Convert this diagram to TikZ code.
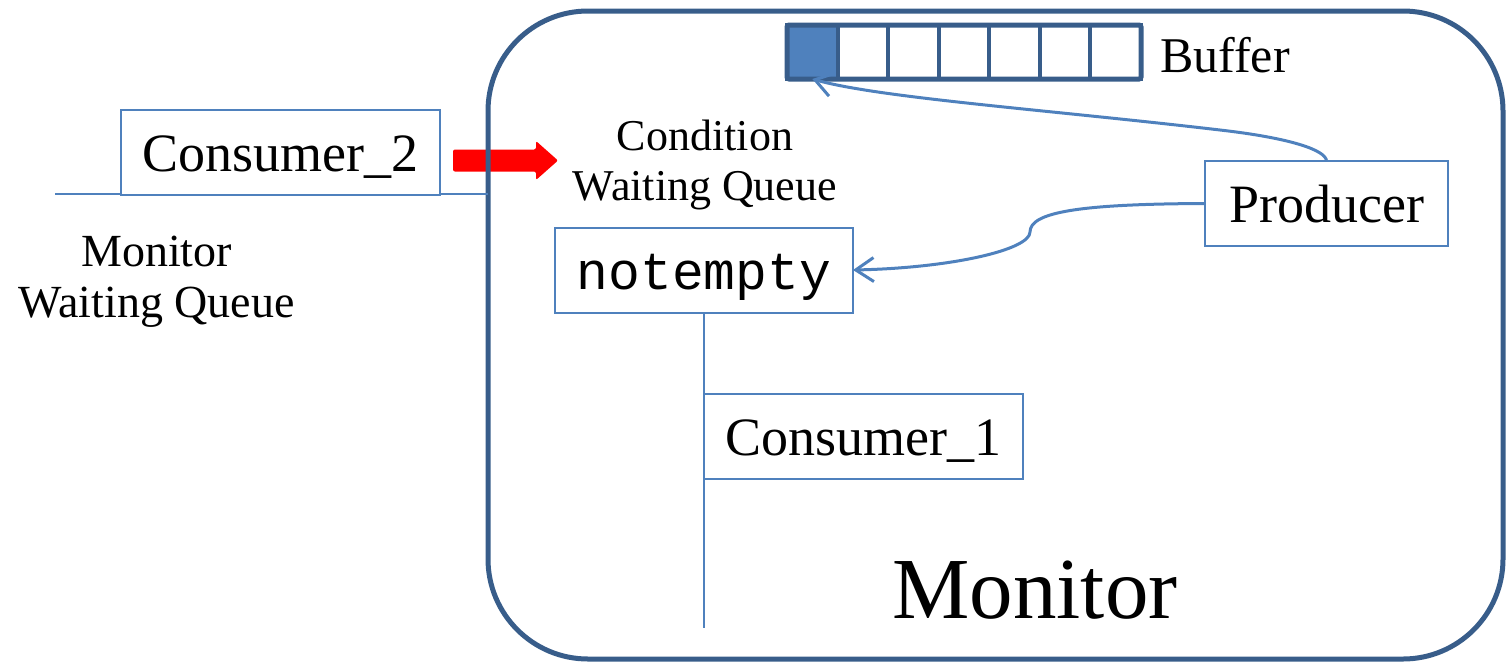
\documentclass[tikz,border=0pt]{standalone}
\usepackage{fontspec}
\setmainfont{LiberationSerif}[Extension=.ttf, UprightFont=*-Regular, BoldFont=*-Bold]
\setmonofont{LiberationMono}[Extension=.ttf, UprightFont=*-Regular, BoldFont=*-Bold]
\usetikzlibrary{arrows.meta}
\definecolor{boxblue}{HTML}{4F81BD}
\definecolor{frameblue}{HTML}{385D8A}
\begin{document}
\begin{tikzpicture}[x=1pt,y=-1pt,
  box/.style={draw=boxblue, line width=2pt, fill=white, inner sep=0pt, outer sep=0pt,
    minimum height=85pt, text height=37pt, text depth=0pt, font=\fontsize{54}{60}\selectfont},
  link/.style={draw=boxblue, line width=3pt, -{Straight Barb[length=18pt,width=24pt]}},
  queue/.style={draw=boxblue, line width=2pt},
  qlabel/.style={align=center, inner sep=0pt, font=\fontsize{46}{51}\selectfont},
  cell/.style={draw=frameblue, line width=4pt, minimum width=50.57pt, minimum height=54pt,
    inner sep=0pt, outer sep=0pt}]
\useasboundingbox (0,0) rectangle (1506,662);

% red arrow entering the monitor
\fill[red, rounded corners=2pt] (453,149.5) -- (536,149.5) -- (536,141) -- (558,160.5)
  -- (536,180) -- (536,171.5) -- (453,171.5) -- cycle;

% monitor frame
\draw[frameblue, line width=5pt, rounded corners=100pt] (488,11) rectangle (1503,659);

% monitor waiting queue
\coordinate (qa) at (55,194);
\coordinate (qb) at (488,194);
\draw[queue] (qa) -- (qb);
\node[box, minimum width=319pt] (c2) at (280.5,152.5) {Consumer\_2};
\node[qlabel] (mwq) at (156.5,282) {Monitor\\Waiting Queue};

% condition waiting queue
\node[qlabel, font=\fontsize{44}{50}\selectfont] (cwq) at (705,165) {Condition\\Waiting Queue};
\node[box, minimum width=298pt, text height=38pt, font=\ttfamily\fontsize{53}{60}\selectfont] (ne) at (704,270) {notempty};
\coordinate (qe) at (704,628);
\draw[queue] (ne.south) -- (qe);
\node[box, minimum width=319pt] (c1) at (863.5,436.5) {Consumer\_1};

% buffer
\foreach \i in {1,...,7}
  \node[cell] (b\i) at ({787+50.57*(\i-0.5)},52) {};
\fill[boxblue] ([shift={(2pt,-2pt)}]b1.north west) rectangle ([shift={(-2pt,2pt)}]b1.south east);
\draw[frameblue, line width=5pt, rounded corners=2pt] (b1.north west) rectangle (b7.south east);
\node[anchor=base west, inner sep=0pt, font=\fontsize{50}{60}\selectfont] (buf) at (1160,72) {Buffer};

% producer
\node[box, minimum width=243pt] (prod) at (1326.5,203.5) {Producer};
\draw[link] (prod.north) .. controls (1326,150) and (1290,138) .. (1220,130)
  .. controls (1050,110) and (880,98) .. (b1.south);
\draw[link] (prod.west) .. controls (1080,204) and (1030,212) .. (1030,232)
  .. controls (1030,250) and (950,268) .. (ne.east);

% title
\node[anchor=base, inner sep=0pt, font=\fontsize{87}{100}\selectfont] (mon) at (1035,618) {Monitor};
\end{tikzpicture}
\end{document}
